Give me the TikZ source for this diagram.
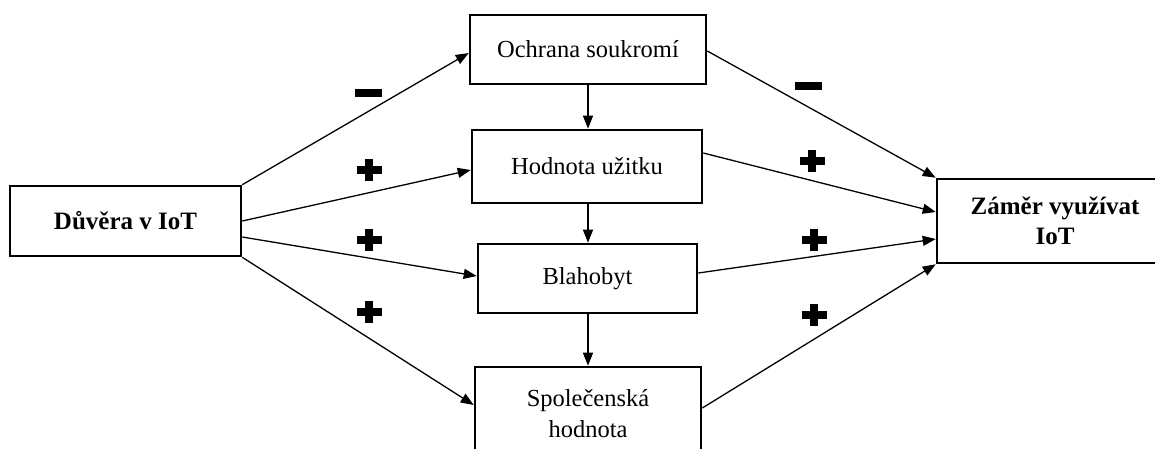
\documentclass[tikz,border=0pt]{standalone}
\usepackage{fontspec}
\setmainfont{Liberation Serif}
\usetikzlibrary{arrows.meta}
\begin{document}
\begin{tikzpicture}[x=1pt,y=-1pt,
  box/.style={draw, line width=2.6pt, inner sep=0pt, align=center,
    font=\fontsize{24.5}{31}\selectfont},
  link/.style={line width=1.3pt, -{Triangle[length=13pt,width=10pt]}},
  plussign/.pic={\fill (-12.5,-4) rectangle (12.5,4); \fill (-4,-11) rectangle (4,11);},
  minussign/.pic={\fill (-13.5,-4) rectangle (13.5,4);}
]
\useasboundingbox (0,0) rectangle (1155,448);
\clip (0,0) rectangle (1155,448);
\fill[white] (0,0) rectangle (1155,448);

% boxes
\node[box, minimum width=231pt, minimum height=70pt, font=\fontsize{25}{31}\selectfont\bfseries]
  (duv) at (125.5,221) {Důvěra v IoT};
\node[box, minimum width=236pt, minimum height=69pt] (och) at (588,49.5) {Ochrana soukromí};
\node[box, minimum width=230pt, minimum height=73pt] (hod) at (587,166.5) {Hodnota užitku};
\node[box, minimum width=219pt, minimum height=69pt] (bla) at (587.5,278.5) {Blahobyt};
\node[box, minimum width=226pt, minimum height=93pt] (spo) at (588,413.5) {Společenská\\hodnota};
\node[box, minimum width=236pt, minimum height=84pt, font=\fontsize{25}{30}\selectfont\bfseries]
  (zam) at (1055,221) {Záměr využívat\\IoT};

% trust to mediators
\draw[link] (duv.north east) -- ([yshift=-3.5pt]och.west);
\draw[link] (duv.east) -- ([yshift=-3.5pt]hod.west);
\draw[link] ([yshift=-16pt]duv.east) -- ([yshift=2.5pt]bla.west);
\draw[link] (duv.south east) -- ([yshift=8.5pt]spo.west);

% mediators to intention
\draw[link] ([yshift=-1.5pt]och.east) -- (zam.north west);
\draw[link] ([yshift=13.5pt]hod.east) -- ([yshift=9pt]zam.west);
\draw[link] ([yshift=5.5pt]bla.east) -- ([yshift=-18pt]zam.west);
\draw[link] ([yshift=5.5pt]spo.east) -- (zam.south west);

% chain between mediators
\draw[link] (och.south) -- (och.south |- hod.north);
\draw[link] (och.south |- hod.south) -- (och.south |- bla.north);
\draw[link] (och.south |- bla.south) -- (och.south |- spo.north);

% signs of the effects
\pic at (368,93) {minussign};
\pic at (369,170) {plussign};
\pic at (369,240) {plussign};
\pic at (369,312) {plussign};
\pic at (808,86) {minussign};
\pic at (812,161) {plussign};
\pic at (814,240) {plussign};
\pic at (814,315) {plussign};
\end{tikzpicture}
\end{document}
